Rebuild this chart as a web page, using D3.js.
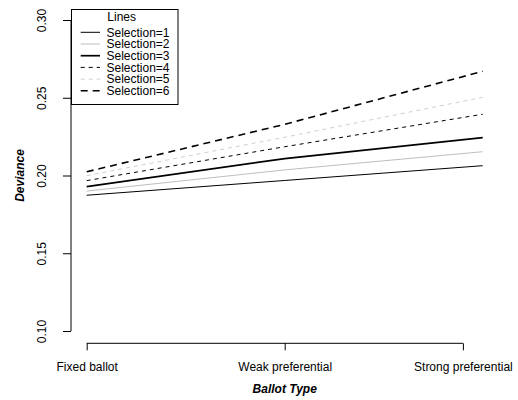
<!DOCTYPE html>
<html><head><meta charset="utf-8">
<script src="https://cdn.jsdelivr.net/npm/d3@7"></script>
<style>body{margin:0;background:#fff}svg{display:block;font-family:"Liberation Sans",Arial,sans-serif}</style>
</head><body>
<svg id="c" width="518" height="400"></svg>
<script>
const categories = ["Fixed ballot", "Weak preferential", "Strong preferential"];
const categoryPositions = [1, 2, 3];
const tickPositions = [1, 2, 2.9];
const seriesNames = ["Selection=1","Selection=2","Selection=3","Selection=4","Selection=5","Selection=6"];
const sel1 = [0.1873, 0.1968, 0.2063];
const sel2 = [0.1900, 0.2036, 0.2153];
const sel3 = [0.1928, 0.2109, 0.2243];
const sel4 = [0.1967, 0.2185, 0.2394];
const sel5 = [0.1999, 0.2246, 0.2503];
const sel6 = [0.2024, 0.2329, 0.2670];
const yTicks = [0.10, 0.15, 0.20, 0.25, 0.30];
const seriesValues = [sel1, sel2, sel3, sel4, sel5, sel6];

const styles = [
  {color:"#000", width:1, dash:null},
  {color:"#bebebe", width:1, dash:null},
  {color:"#000", width:1.7, dash:null},
  {color:"#000", width:1, dash:"4,4"},
  {color:"#cfcfcf", width:1, dash:"4,4"},
  {color:"#000", width:1.6, dash:"7,5"}
];

const svg = d3.select("#c");
const x = d3.scaleLinear().domain([1,3]).range([86.7,482.7]);
const y = d3.scaleLinear().domain([0.10,0.30]).range([331,20]);

// y axis
const yAxis = d3.axisLeft(y).tickValues(yTicks).tickSize(8).tickPadding(0).tickFormat(d3.format(".2f"));
const gy = svg.append("g").attr("transform","translate(71,0)").call(yAxis);
gy.select(".domain").attr("d", `M0,${y(0.10)}V${y(0.30)}`).attr("stroke","#000");
gy.selectAll(".tick line").attr("stroke","#000");
gy.selectAll(".tick text").attr("font-size",12).attr("fill","#000")
  .attr("text-anchor","middle").attr("dy",null)
  .attr("transform", d => `translate(-25,0) rotate(-90)`).attr("x",0).attr("y",0);

// x axis
const xAxis = d3.axisBottom(x).tickValues(tickPositions).tickSize(7).tickPadding(0)
  .tickFormat((d,i) => categories[i]);
const gx = svg.append("g").attr("transform","translate(0,343.3)").call(xAxis);
gx.select(".domain").attr("d", `M${x(tickPositions[0])},0H${x(tickPositions[2])}`).attr("stroke","#000");
gx.selectAll(".tick line").attr("stroke","#000");
gx.selectAll(".tick text").attr("font-size",12).attr("fill","#000").attr("dy",null).attr("y",28);

// axis titles
svg.append("text").attr("x",x(2)).attr("y",393).attr("text-anchor","middle")
  .attr("font-size",12).attr("font-weight","bold").attr("font-style","italic").text("Ballot Type");
svg.append("text").attr("transform",`translate(24,${y(0.20)}) rotate(-90)`).attr("text-anchor","middle")
  .attr("font-size",12).attr("font-weight","bold").attr("font-style","italic").text("Deviance");

// lines
const line = d3.line().x((d,i)=>x(categoryPositions[i])).y(d=>y(d));
seriesValues.forEach((vals,k) => {
  const s = styles[k];
  svg.append("path").attr("d", line(vals)).attr("fill","none")
    .attr("stroke", s.color).attr("stroke-width", s.width)
    .attr("stroke-dasharray", s.dash);
});

// legend
const lg = svg.append("g");
lg.append("rect").attr("x",71.5).attr("y",9.5).attr("width",106.5).attr("height",95)
  .attr("fill","#fff").attr("stroke","#000").attr("stroke-width",1);
lg.append("text").attr("x",121.7).attr("y",20.5).attr("text-anchor","middle").attr("font-size",12).text("Lines");
seriesNames.forEach((nm,k) => {
  const s = styles[k];
  const yy = 32.3 + k*11.7;
  lg.append("line").attr("x1",80.7).attr("x2",100).attr("y1",yy).attr("y2",yy)
    .attr("stroke",s.color).attr("stroke-width",s.width).attr("stroke-dasharray",s.dash);
  lg.append("text").attr("x",106.5).attr("y",yy+4.3).attr("font-size",12).text(nm);
});
</script>
</body></html>
